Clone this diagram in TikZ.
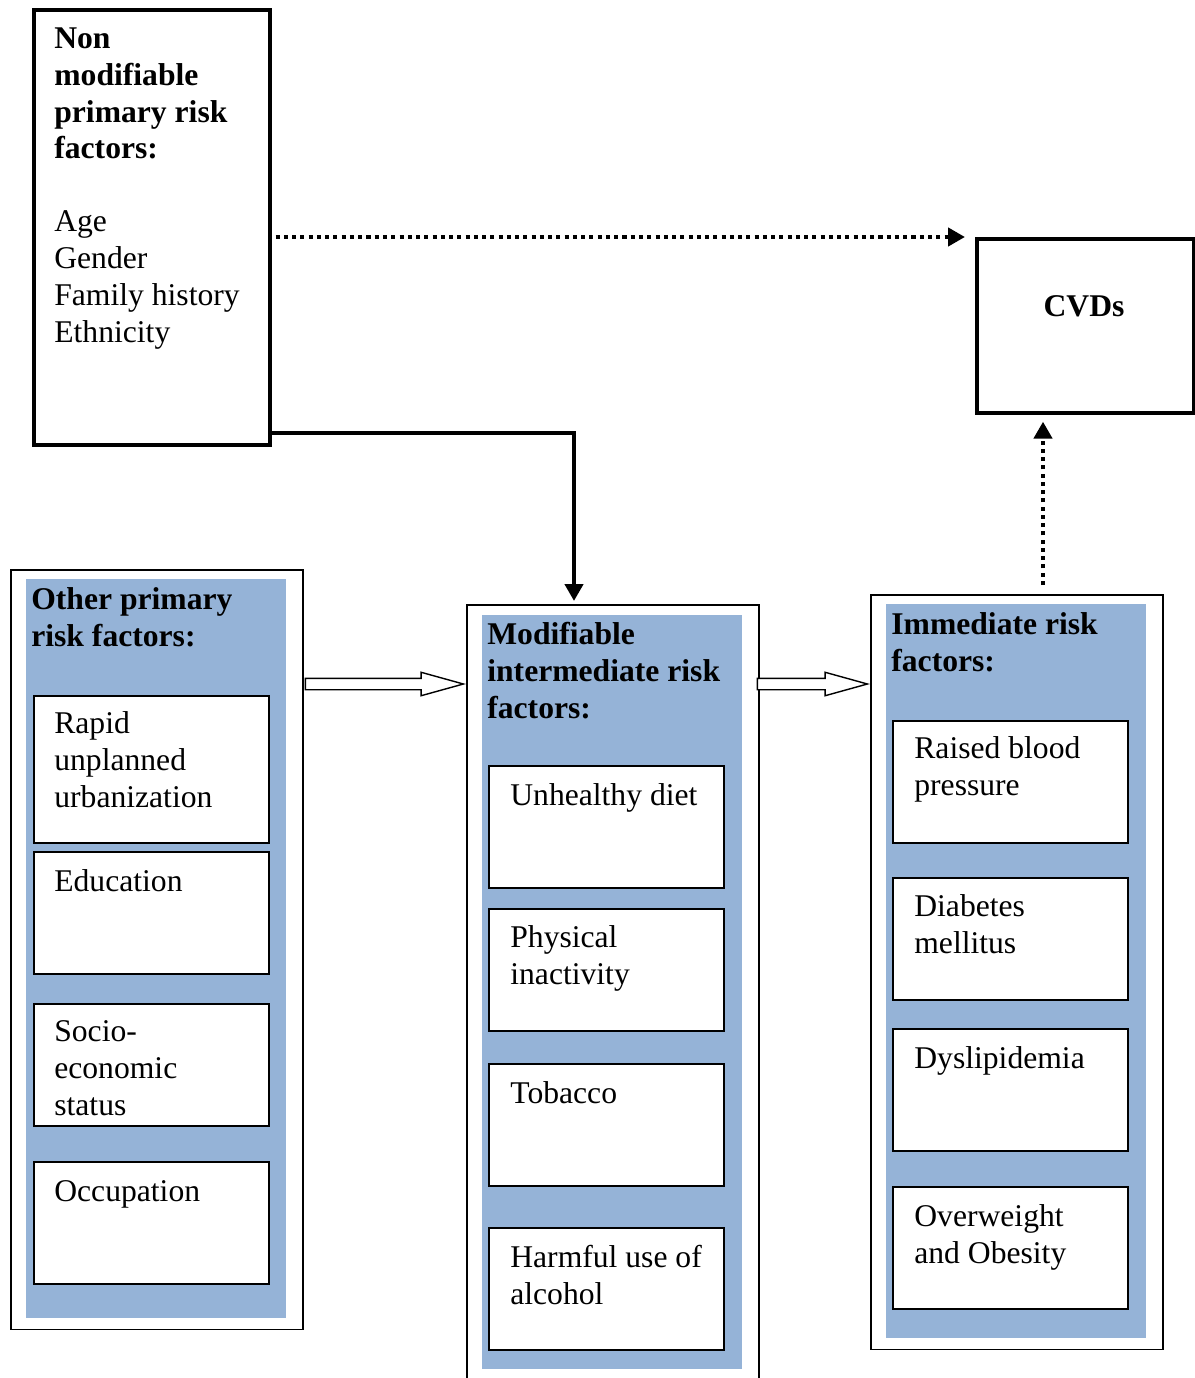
\documentclass[tikz,border=0pt]{standalone}
\usepackage{fontspec}
\setmainfont{Liberation Serif}
\usepackage{tikz}
\usetikzlibrary{arrows.meta, shapes.arrows}
\definecolor{panelblue}{HTML}{95B3D7}
\tikzstyle{mainbox} = [draw=black, line width=2.1pt, anchor=north west, inner sep=0]
\tikzstyle{outerbox} = [draw=black, line width=0.9pt, anchor=north west, inner sep=0]
\tikzstyle{bluebox} = [fill=panelblue, anchor=north west, inner sep=0, minimum width=5.2cm]
\tikzstyle{itembox} = [draw=black, line width=1.2pt, fill=white, anchor=north west,
inner sep=0, minimum width=4.7cm, minimum height=2.44cm]
\tikzstyle{itemtext} = [anchor=base west, align=left, inner sep=0,
font=\fontsize{18}{21}\selectfont]
\tikzstyle{headtext} = [itemtext, font=\fontsize{18}{21}\selectfont\bfseries]
\tikzstyle{arrow} = [line width=2.5pt, -{Triangle[length=0.34cm,width=0.36cm]}]
\tikzstyle{dotarrow} = [arrow, dash pattern=on 2.3pt off 2.4pt]
\tikzstyle{hollow} = [single arrow, draw=black, line width=0.8pt, fill=white,
inner sep=0.1cm, single arrow head extend=0.12cm,
single arrow tip angle=31, anchor=tip]

\begin{document}
\begin{tikzpicture}[x=0.02cm, y=-0.02cm]
  \useasboundingbox (0,0) rectangle (1194,1378);
  % top boxes (text nodes sit on the baseline of their last line)
  \node [mainbox, minimum width=4.72cm, minimum height=8.7cm] (nonmod) at (32,8) {};
  \node [headtext] (nonmodtitle) at (54,159) {Non\\modifiable\\primary risk\\factors:};
  \node [itemtext] (nonmodlist) at (54,342) {Age\\Gender\\Family history\\Ethnicity};
  \node [mainbox, minimum width=4.34cm, minimum height=3.48cm] (cvd) at (975,237) {};
  \node [font=\fontsize{18}{21}\selectfont\bfseries] at (1084,306) {CVDs};
  % three columns
  \node [outerbox, minimum width=5.84cm, minimum height=15.2cm] (leftout) at (10,569) {};
  \node [bluebox, minimum height=14.78cm] (leftblue) at (26,579) {};
  \node [outerbox, minimum width=5.84cm, minimum height=16cm] (midout) at (466,604) {};
  \node [bluebox, minimum height=15.08cm] (midblue) at (482,615) {};
  \node [outerbox, minimum width=5.84cm, minimum height=15.1cm] (rightout) at (870,594) {};
  \node [bluebox, minimum height=14.68cm] (rightblue) at (886,604) {};
  \node [headtext] at (31,646) {Other primary\\risk factors:};
  \node [headtext] at (487,718) {Modifiable\\intermediate risk\\factors:};
  \node [headtext] at (891,671) {Immediate risk\\factors:};
  % other primary
  \node [itembox, minimum height=2.94cm] (urban) at (33,695) {};
  \node [itemtext] at (54,807) {Rapid\\unplanned\\urbanization};
  \node [itembox] (educ) at (33,851) {};
  \node [itemtext] at (54,891) {Education};
  \node [itembox] (socio) at (33,1003) {};
  \node [itemtext] at (54,1115) {Socio-\\economic\\status};
  \node [itembox] (occup) at (33,1161) {};
  \node [itemtext] at (54,1201) {Occupation};
  % intermediate
  \node [itembox] (diet) at (488,765) {};
  \node [itemtext] at (510,805) {Unhealthy diet};
  \node [itembox] (phys) at (488,908) {};
  \node [itemtext] at (510,984) {Physical\\inactivity};
  \node [itembox] (tobac) at (488,1063) {};
  \node [itemtext] at (510,1103) {Tobacco};
  \node [itembox] (alcoh) at (488,1227) {};
  \node [itemtext] at (510,1304) {Harmful use of\\alcohol};
  % immediate
  \node [itembox] (bp) at (892,720) {};
  \node [itemtext] at (914,795) {Raised blood\\pressure};
  \node [itembox] (diab) at (892,877) {};
  \node [itemtext] at (914,953) {Diabetes\\mellitus};
  \node [itembox] (lipid) at (892,1028) {};
  \node [itemtext] at (914,1068) {Dyslipidemia};
  \node [itembox] (obes) at (892,1186) {};
  \node [itemtext] at (914,1263) {Overweight\\and Obesity};
  % arrows
  \draw [dotarrow] ([xshift=0.08cm]nonmod.east |- cvd.north west) -- ([xshift=-0.2cm]cvd.north west);
  \draw [arrow] (nonmod.east |- 0,433) -| ([yshift=0.06cm]midout.north -| 574,0);
  \draw [dotarrow] ([yshift=0.18cm]rightout.north -| 1043,0) -- ([yshift=-0.14cm]cvd.south -| 1043,0);
  \node [hollow, minimum height=3.16cm] (hollowa) at (midout.west |- 0,684) {};
  \node [hollow, minimum height=2.2cm] (hollowb) at (rightout.west |- 0,684) {};
\end{tikzpicture}
\end{document}
